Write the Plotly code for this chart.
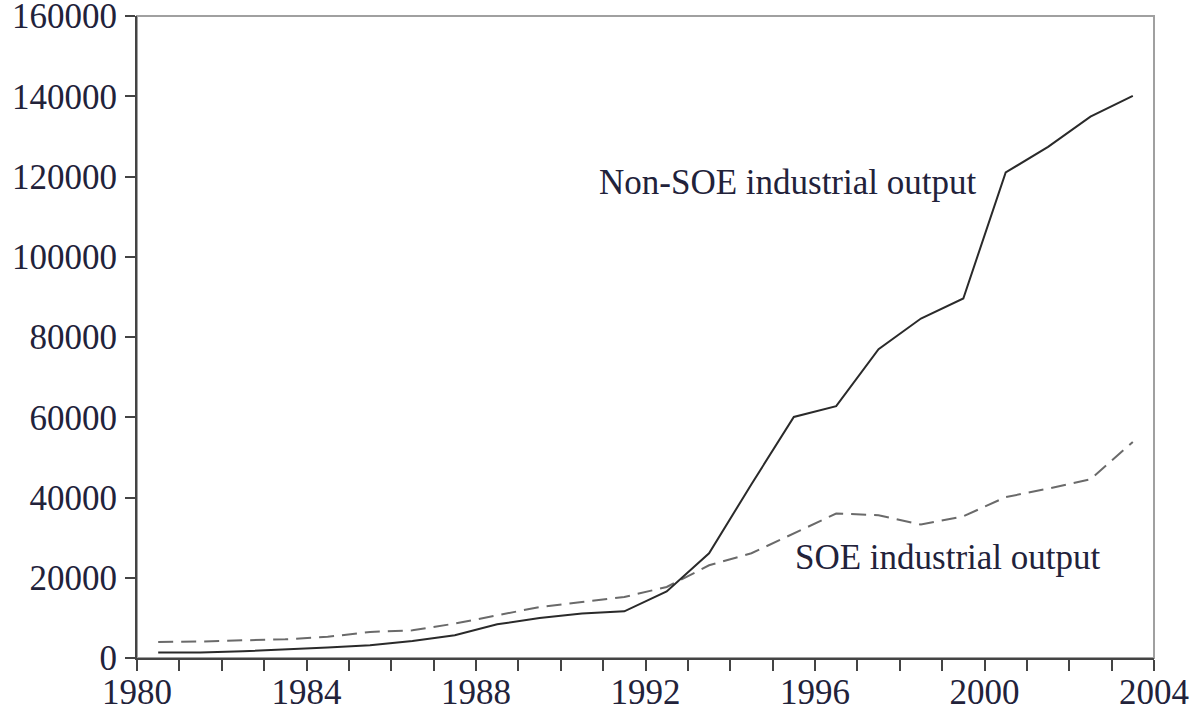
"""SOE vs non-SOE industrial output, 1980-2003."""
import plotly.graph_objects as go

YEARS = list(range(1980, 2004))
NON_SOE = [1350, 1400, 1670, 2100, 2600, 3170, 4240, 5660, 8400, 9970, 11060, 11640,
           16600, 26100, 43300, 60080, 62750, 76960, 84600, 89600, 121000, 127400,
           134900, 140100]
SOE = [4000, 4100, 4400, 4660, 5300, 6480, 6900, 8570, 10640, 12700, 13960, 15200,
       17700, 23100, 26100, 31000, 36000, 35600, 33250, 35300, 40100, 42200, 44550,
       53850]
X_TICKS = [1980, 1984, 1988, 1992, 1996, 2000, 2004]
Y_TICKS = [0, 20000, 40000, 60000, 80000, 100000, 120000, 140000, 160000]

TEXT = "#22223a"
FONT = dict(family="Liberation Serif, Times New Roman, serif", size=35, color=TEXT)

# values are annual totals, drawn at the middle of each year
x_mid = [y + 0.5 for y in YEARS]

fig = go.Figure()
fig.add_scatter(x=x_mid, y=SOE, mode="lines", name="SOE industrial output",
                line=dict(color="#6a6a6a", width=2, dash="15px,8px"))
fig.add_scatter(x=x_mid, y=NON_SOE, mode="lines", name="Non-SOE industrial output",
                line=dict(color="#2a2a2a", width=2))

fig.add_annotation(x=1995.35, y=118500, text="Non-SOE industrial output",
                   showarrow=False, font=FONT, xanchor="center", yanchor="middle")
fig.add_annotation(x=1999.15, y=25000, text="SOE industrial output",
                   showarrow=False, font=FONT, xanchor="center", yanchor="middle")

# lighter frame on top/right
fig.add_shape(type="rect", xref="paper", yref="paper", x0=0, y0=0, x1=1, y1=1,
              line=dict(color="#a0a0a0", width=2), layer="below")

fig.update_layout(
    width=1194, height=709,
    font=FONT,
    paper_bgcolor="white", plot_bgcolor="white",
    margin=dict(l=137, r=40, t=16, b=51),
    showlegend=False,
)
fig.update_xaxes(
    range=[1980, 2004], tickvals=X_TICKS, showgrid=False, zeroline=False,
    showline=True, linecolor="#444", linewidth=2, automargin=False,
    ticks="outside", ticklen=11, tickwidth=2, tickcolor="#444",
    minor=dict(dtick=1, tick0=1980, ticks="outside", ticklen=11, tickwidth=2,
               tickcolor="#444", showgrid=False),
    tickfont=FONT, ticklabeloverflow="allow", ticklabelstandoff=-9,
)
fig.update_yaxes(
    range=[0, 160000], tickvals=Y_TICKS, showgrid=False, zeroline=False,
    showline=True, linecolor="#444", linewidth=2, automargin=False,
    ticks="outside", ticklen=10, tickwidth=2, tickcolor="#444",
    tickformat="d", tickfont=FONT, ticklabeloverflow="allow", ticklabelstandoff=1,
)

# drop the browser's default body margin so the figure fills the window
fig.write_html("out.html", config={"displayModeBar": False},
               post_script="document.body.style.margin='0';")
